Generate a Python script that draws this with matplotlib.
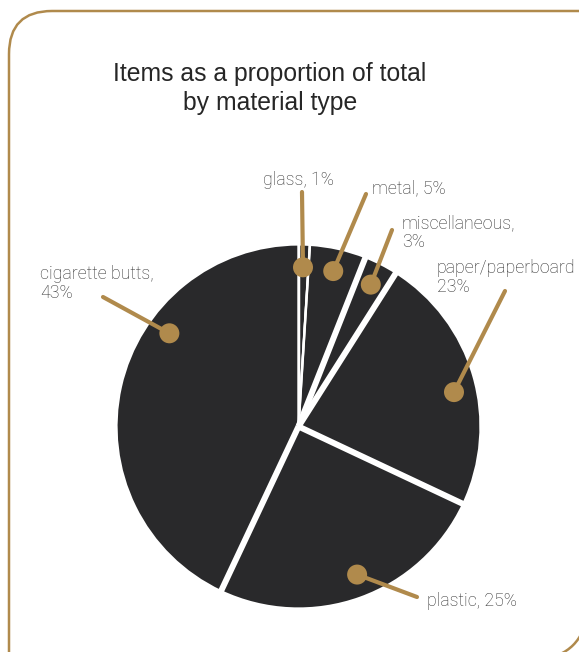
import matplotlib
matplotlib.use("Agg")
import matplotlib.pyplot as plt
import numpy as np
from matplotlib.patches import Circle, Arc
from matplotlib.path import Path
from matplotlib.patches import PathPatch

# ---------------- data ----------------
categories = ["glass", "metal", "miscellaneous", "paper/paperboard", "plastic", "cigarette butts"]
shares = [1, 5, 3, 23, 25, 43]
label_texts = ["glass, 1%", "metal, 5%", "miscellaneous,\n3%", "paper/paperboard\n23%",
               "plastic, 25%", "cigarette butts,\n43%"]
title_text = "Items as a proportion of total\nby material type"

# ---------------- style / layout ----------------
W, H = 579, 652
GOLD = "#b08a4c"
DARK = "#29292b"
TEXT = "#2e2e2e"
# gap width (px) after each wedge (boundary at wedge end, clockwise)
gap_after = [2.5, 6, 6, 6, 6, 2.5]
# where along the wedge the dot sits (0=start,1=end) and radial fraction
dot_frac = [0.45, 0.5, 0.5, 0.545, 0.48, 0.65]
dot_rad = 0.875
# label text anchor (left x, last-line baseline y, from top in px) and line start point
label_pos = [(263, 185), (372, 193), (402, 247), (437, 292), (427, 606), (40, 298)]
line_start = [(302, 192), (366, 194), (392, 230), (505, 291), (417, 597), (103, 297)]

def P(x, y):
    return (x, H - y)

fig = plt.figure(figsize=(W / 100, H / 100), dpi=100)
ax = fig.add_axes([0, 0, 1, 1])

cx, cy = P(298.5, 426.5)
R = 182
wedges, _ = ax.pie(shares, startangle=90, counterclock=False, colors=[DARK] * len(shares),
                   center=(cx, cy), radius=R,
                   wedgeprops=dict(edgecolor="white", linewidth=1.6))
ax.set_xlim(0, W)
ax.set_ylim(0, H)
ax.set_aspect("equal")
ax.axis("off")

# wider white gaps at some boundaries
for w, g in zip(wedges, gap_after):
    ang = np.deg2rad(w.theta1)
    ax.plot([cx, cx + (R + 3) * np.cos(ang)], [cy, cy + (R + 3) * np.sin(ang)],
            color="white", lw=g * 0.72, solid_capstyle="butt", zorder=3)

# annotation lines, dots and labels
for w, f, lt, lp, ls in zip(wedges, dot_frac, label_texts, label_pos, line_start):
    a = np.deg2rad(w.theta2 - f * (w.theta2 - w.theta1))
    dx, dy = cx + dot_rad * R * np.cos(a), cy + dot_rad * R * np.sin(a)
    sx, sy = P(*ls)
    ax.plot([sx, dx], [sy, dy], color=GOLD, lw=3.0, solid_capstyle="round", zorder=4)
    ax.add_patch(Circle((dx, dy), 10, color=GOLD, zorder=5, lw=0))
    tx, ty = P(*lp)
    ax.text(tx, ty, lt, ha="left", va="baseline", fontsize=12.8, color=TEXT,
            family="Roboto", weight="light", linespacing=1.08, zorder=6)

# title
ax.text(270, H - 110, title_text, ha="center", va="baseline", fontsize=17.8,
        color="#262626", family="Liberation Sans", linespacing=1.28)

# border (rounded frame, partially cut off)
r = 43
verts = [P(9, H + 10), P(9, 11 + r), P(9, 11), P(9 + r, 11), P(W + 10, 11)]
codes = [Path.MOVETO, Path.LINETO, Path.CURVE3, Path.CURVE3, Path.LINETO]
ax.add_patch(PathPatch(Path(verts, codes), fill=False, edgecolor=GOLD, lw=1.8, zorder=7))
ax.add_patch(Arc(P(542, 614), 88, 88, theta1=270, theta2=360, edgecolor=GOLD, lw=1.8, zorder=7))

fig.savefig("out.png", dpi=100, facecolor="white")
